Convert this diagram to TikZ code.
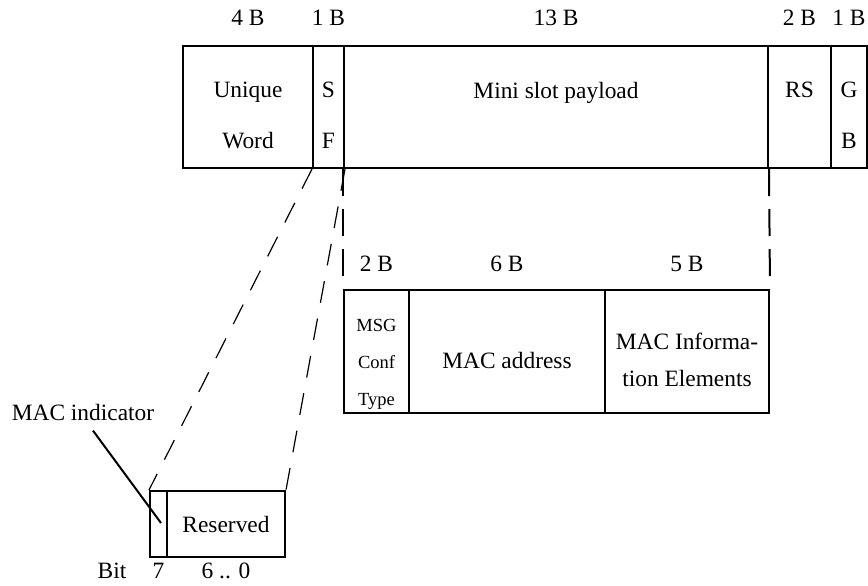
\documentclass[tikz,border=0pt]{standalone}
\usepackage{fontspec}
\setmainfont{Liberation Serif}
\usetikzlibrary{positioning,calc}
\tikzset{
  field/.style={draw,line width=1pt,inner sep=0pt,anchor=north west},
  txt/.style={font=\fontsize{11.7}{25.5}\selectfont,align=center,inner sep=0pt},
  smalltxt/.style={font=\fontsize{9.25}{18.5}\selectfont,align=center,inner sep=0pt},
  midtxt/.style={font=\fontsize{11.7}{18.5}\selectfont,align=center,inner sep=0pt},
  gapline/.style={line width=1pt,dash pattern=on 13.5pt off 6.5pt},
  zoomline/.style={line width=0.6pt,dash pattern=on 11pt off 8pt}
}
% x, y (top left), width, height, name -- all in px of the picture
\newcommand{\slotfield}[5]{%
  \node[field,minimum width=#3*0.5pt,minimum height=#4*0.5pt] (#5) at (#1,#2) {};
}

\begin{document}
\begin{tikzpicture}[x=0.5pt,y=-0.5pt]
  \useasboundingbox (0,0) rectangle (868,585);
  % mini slot
  \foreach \x/\w/\n/\b in {182/130/uw/4 B, 312/31/sf/1 B, 343/424/pay/13 B,
                           767/63/rs/2 B, 830/36/gb/1 B} {
    \slotfield{\x}{45}{\w}{122}{\n}
    \node[txt,anchor=base] (\n-size) at ([yshift=10pt]\n.north) {\b};
  }
  \node[txt] (uw-txt) at ([yshift=-4.25pt]uw.center) {Unique\\Word};
  \node[txt] (sf-txt) at ([yshift=-4.25pt]sf.center) {S\\F};
  \node[txt] (pay-txt) at ([yshift=7pt]pay.center) {Mini slot payload};
  \node[txt] (rs-txt) at ([yshift=8.5pt]rs.center) {RS};
  \node[txt] (gb-txt) at ([yshift=-4.25pt]gb.center) {G\\B};

  % payload contents
  \foreach \x/\w/\n/\b in {343/65/msg/2 B, 408/196/mac/6 B, 604/164/ie/5 B} {
    \slotfield{\x}{289}{\w}{123}{\n}
    \node[txt,anchor=base] (\n-size) at ([yshift=9pt]\n.north) {\b};
  }
  \node[smalltxt] (msg-txt) at ([yshift=-6.25pt]msg.center) {MSG\\Conf\\Type};
  \node[txt] (mac-txt) at ([yshift=-4.25pt]mac.center) {MAC address};
  \node[midtxt] (ie-txt) at ([yshift=-4pt]ie.center) {MAC Informa-\\tion Elements};
  \draw[gapline] (pay.south west) -- (msg.north west);
  \draw[gapline] (pay.south east) -- (ie.north east);

  % SF bits
  \slotfield{149}{490}{17}{66}{bit7}
  \slotfield{166}{490}{118}{66}{res}
  \node[txt] (res-txt) at (res.center) {Reserved};
  \node[txt,anchor=base] (bit-txt) at (112,578) {Bit};
  \node[txt,anchor=base] (bit7-txt) at (bit7.south |- bit-txt.base) {7};
  \node[txt,anchor=base] (res-bits) at (res.south |- bit-txt.base) {6 .. 0};
  \draw[zoomline] (sf.south west) -- (bit7.north west);
  \draw[zoomline] (sf.south east) -- (res.north east);

  \node[txt] (mi-txt) at (83,412) {MAC indicator};
  \coordinate (mi-tip) at (161,523);
  \draw[line width=1pt] ([xshift=5pt,yshift=-5pt]mi-txt.south) -- (mi-tip);
\end{tikzpicture}
\end{document}
